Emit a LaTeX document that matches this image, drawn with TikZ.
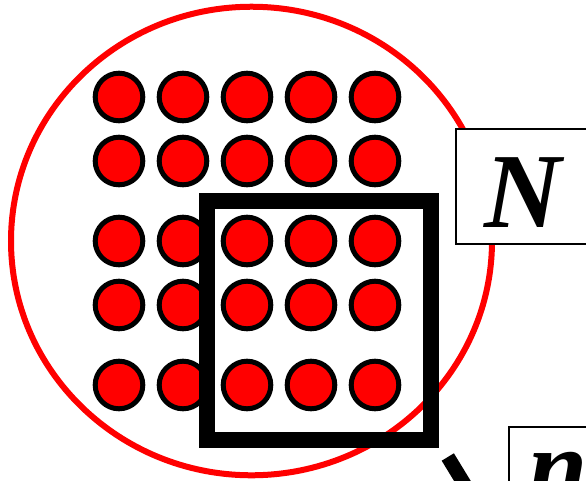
\documentclass[tikz,border=0pt]{standalone}
\usepackage{fontspec}
\setmainfont{Liberation Serif}
\usetikzlibrary{shapes.geometric}

\begin{document}
\begin{tikzpicture}[x=0.75pt,y=-0.75pt,
  dot/.style={circle,draw,fill=red,line width=3.75pt,minimum size=35.7pt,inner sep=0pt},
  lbl/.style={draw,fill=white,line width=1.5pt,minimum width=100.5pt,minimum height=86.25pt,
    text depth=0pt,font=\fontsize{80}{80}\selectfont\bfseries\itshape}]
  \useasboundingbox (0,0) rectangle (586,480);
  \clip (0,0) rectangle (586,480);
  % population
  \node[ellipse,draw=red,line width=4.5pt,minimum width=360.75pt,minimum height=351.4pt,inner sep=0pt] (pop) at (251.5,241) {};
  \foreach \x [count=\i] in {119,183,247,311,375}
    \foreach \y [count=\j] in {97,161,241,305,385}
      \node[dot] (d\i\j) at (\x,\y) {};
  % sample
  \node[draw,line width=12pt,minimum width=168pt,minimum height=179.25pt] (smp) at (319,320.5) {};
  \node[lbl,text height=60.75pt] (bigN) at (523,186.5) {N};
  \node[lbl,anchor=north west,minimum width=75pt,text height=27.75pt] (smalln) at (507.5,425.5) {n};
  \coordinate (s1) at (447.8,457);
  \coordinate (s2) at (474,500);
  \draw[line width=10.7pt] (s1) -- (s2);
\end{tikzpicture}
\end{document}
